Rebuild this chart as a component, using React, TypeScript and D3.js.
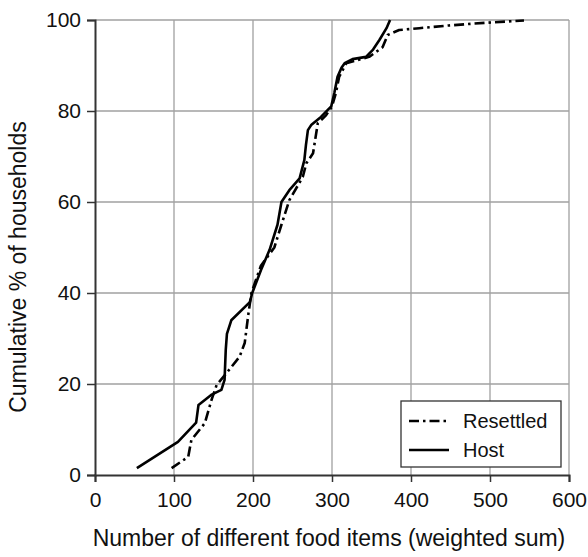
import * as d3 from "d3";
import { useEffect, useRef } from "react";

// Host households (solid line): [food items, cumulative %]
const hostX = [53, 105, 128, 131, 147, 160, 164, 165.5, 167, 172.5, 196, 199, 210, 221, 231, 236, 246, 259, 265, 267, 269.5, 274, 286, 299, 303, 307, 312, 316, 326, 343, 352, 360, 369, 373.5];
const hostY = [1.5, 7.3, 11.5, 15.4, 17.6, 18.7, 20.9, 27.5, 31, 34, 38, 40, 45, 49.5, 55, 60, 62.6, 65.2, 69.2, 72.5, 75.8, 77, 78.7, 81, 84, 87.5, 89.5, 90.5, 91.4, 91.9, 93.5, 95.6, 98.2, 100];

// Resettled households (dash-dot line)
const resX = [97, 118, 122, 139, 147.5, 154, 166, 183, 189.5, 194, 198, 210, 227, 236, 246, 263, 267.5, 276, 282, 292.6, 300, 305, 309, 318, 347, 364, 370.5, 385, 410.5, 448, 495, 543];
const resY = [1.5, 4, 7.7, 11.4, 16.5, 19.8, 22.3, 26, 29, 35.2, 40, 46, 50, 55, 60.4, 65.5, 68.5, 70.7, 77.3, 79.1, 81, 84, 87.5, 90.5, 91.9, 94, 96.7, 97.8, 98.2, 98.8, 99.4, 99.9];

const xTicks = [0, 100, 200, 300, 400, 500, 600];
const yTicks = [0, 20, 40, 60, 80, 100];

const W = 588;
const H = 557;
const left = 95;
const right = 569;
const top = 20;
const bottom = 475;
const font = "'Liberation Sans', Arial, sans-serif";

export default function App() {
  const svgRef = useRef<SVGSVGElement>(null);

  useEffect(() => {
    const svg = d3.select(svgRef.current);
    svg.selectAll("*").remove();

    const x = d3.scaleLinear().domain([0, 600]).range([left, right]);
    const y = d3.scaleLinear().domain([0, 100]).range([bottom, top]);

    // grid
    const grid = svg.append("g");
    grid
      .selectAll(".gx")
      .data(xTicks.slice(1))
      .join("line")
      .attr("x1", (d) => x(d))
      .attr("x2", (d) => x(d))
      .attr("y1", top)
      .attr("y2", bottom)
      .attr("stroke", "#a0a0a0")
      .attr("stroke-width", 1.3);
    grid
      .selectAll(".gy")
      .data(yTicks.slice(1))
      .join("line")
      .attr("x1", left)
      .attr("x2", right)
      .attr("y1", (d) => y(d))
      .attr("y2", (d) => y(d))
      .attr("stroke", "#a0a0a0")
      .attr("stroke-width", 1.3);

    // axes
    const xAxis = svg
      .append("g")
      .attr("transform", `translate(0,${bottom})`)
      .call(d3.axisBottom(x).tickValues(xTicks).tickSize(7).tickPadding(10));
    const yAxis = svg
      .append("g")
      .attr("transform", `translate(${left},0)`)
      .call(d3.axisLeft(y).tickValues(yTicks).tickSize(8).tickPadding(6));
    [xAxis, yAxis].forEach((g) => {
      g.select(".domain").attr("stroke", "#333").attr("stroke-width", 2);
      g.selectAll(".tick line").attr("stroke", "#333").attr("stroke-width", 1.5);
      g.selectAll(".tick text")
        .attr("fill", "#111")
        .style("font-family", font)
        .style("font-size", "21px");
    });

    // curves
    const line = d3
      .line<[number, number]>()
      .x((d) => x(d[0]))
      .y((d) => y(d[1]));
    const host = hostX.map((v, i) => [v, hostY[i]] as [number, number]);
    const res = resX.map((v, i) => [v, resY[i]] as [number, number]);

    svg
      .append("path")
      .attr("d", line(res))
      .attr("fill", "none")
      .attr("stroke", "#000")
      .attr("stroke-width", 2.6)
      .attr("stroke-linejoin", "round")
      .attr("stroke-dasharray", "10 4 2.5 4");
    svg
      .append("path")
      .attr("d", line(host))
      .attr("fill", "none")
      .attr("stroke", "#000")
      .attr("stroke-linejoin", "round")
      .attr("stroke-width", 2.6);

    // legend
    const lg = svg.append("g").attr("transform", "translate(401,401)");
    lg.append("rect")
      .attr("width", 160)
      .attr("height", 66)
      .attr("fill", "#fff")
      .attr("stroke", "#333")
      .attr("stroke-width", 1.3);
    const items = [
      { label: "Resettled", dash: "10 4 2.5 4", yy: 20 },
      { label: "Host", dash: null, yy: 49 },
    ];
    items.forEach((it) => {
      lg.append("line")
        .attr("x1", 8)
        .attr("x2", 48)
        .attr("y1", it.yy)
        .attr("y2", it.yy)
        .attr("stroke", "#000")
        .attr("stroke-width", 2.6)
        .attr("stroke-dasharray", it.dash);
      lg.append("text")
        .attr("x", 62)
        .attr("y", it.yy + 7)
        .attr("fill", "#111")
        .style("font-family", font)
        .style("font-size", "20px")
        .text(it.label);
    });

    // titles
    svg
      .append("text")
      .attr("x", 329)
      .attr("y", 546)
      .attr("text-anchor", "middle")
      .attr("fill", "#111")
      .style("font-family", font)
      .style("font-size", "23px")
      .text("Number of different food items (weighted sum)");
    svg
      .append("text")
      .attr("transform", `translate(26,267) rotate(-90)`)
      .attr("text-anchor", "middle")
      .attr("fill", "#111")
      .style("font-family", font)
      .style("font-size", "23px")
      .text("Cumulative % of households");
  }, []);

  return (
    <svg
      ref={svgRef}
      width={W}
      height={H}
      style={{ position: "absolute", left: 0, top: 0, background: "#fff" }}
    />
  );
}
